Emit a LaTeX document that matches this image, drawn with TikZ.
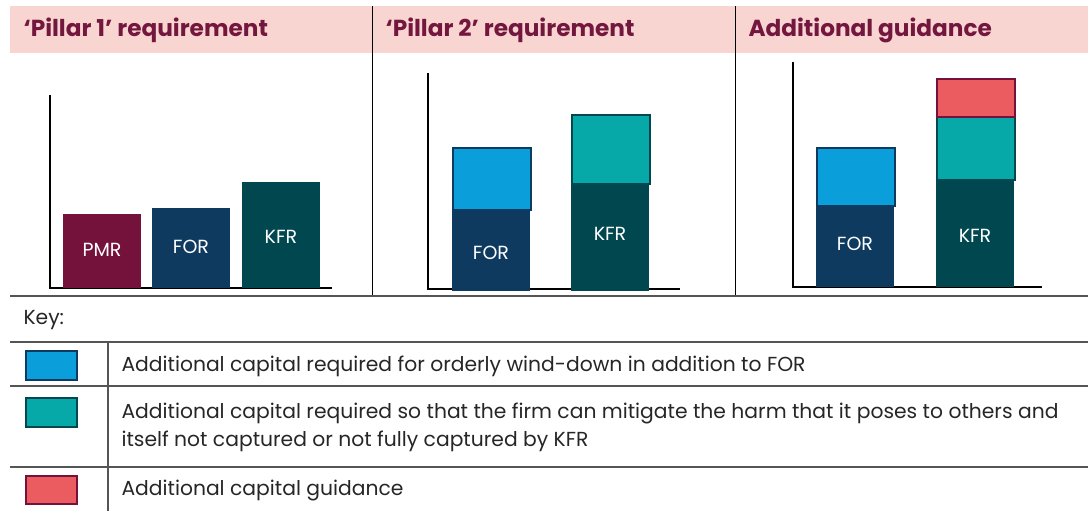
\documentclass[tikz,border=0pt]{standalone}
\usepackage{fontspec}
\setmainfont{Poppins}
\definecolor{hdrpink}{HTML}{F9D5D1}
\definecolor{hdrtext}{HTML}{74173F}
\definecolor{pmrc}{HTML}{74123C}
\definecolor{forc}{HTML}{0E3A5F}
\definecolor{kfrc}{HTML}{00474F}
\definecolor{lblue}{HTML}{0A9FDA}
\definecolor{lteal}{HTML}{07A8A8}
\definecolor{lred}{HTML}{EB5C61}
\definecolor{rulegray}{HTML}{555555}
\tikzset{
  bar/.style={anchor=south west, inner sep=0pt, minimum width=78pt, draw=none, text=white},
  barlabel/.style={text=white, font=\fontsize{19}{22}\selectfont},
  hdr/.style={anchor=west, text=hdrtext, font=\fontsize{23.2}{26}\selectfont\bfseries},
  keytext/.style={anchor=west, align=left, font=\fontsize{20.3}{28}\selectfont, text=black!85},
  axis/.style={line width=1.2pt, black},
  divider/.style={line width=1pt, black},
  hrule/.style={line width=1.3pt, rulegray},
  swatch/.style={anchor=north west, inner sep=0pt, minimum width=51pt, line width=1.8pt}
}
\begin{document}
\begin{tikzpicture}[x=1pt,y=-1pt]
\useasboundingbox (0,0) rectangle (1088,511);
% header band
\fill[hdrpink] (10,6) rectangle (1088,53);
\node[hdr] (h1) at (20,30) {‘Pillar 1’ requirement};
\node[hdr] (h2) at (382,30) {‘Pillar 2’ requirement};
\node[hdr] (h3) at (745,30) {Additional guidance};
% dividers
\draw[divider] (372,6) -- (372,296);
\draw[divider] (735,6) -- (735,296);
% panel 1
\draw[axis] (50,95) coordinate (a1t) -- (50,288) coordinate (a1o) -- (332,288) coordinate (a1r);
\node[bar, fill=pmrc, minimum height=74pt] (pmr) at (63,288) {};
\node[barlabel] (pmrl) at (102,250) {PMR};
\node[bar, fill=forc, minimum height=80pt] (for1) at (152,288) {};
\node[barlabel] (for1l) at (191,247) {FOR};
\node[bar, fill=kfrc, minimum height=106pt] (kfr1) at (242,288) {};
\node[barlabel] (kfr1l) at (281,237) {KFR};
% panel 2
\draw[axis] (428,73) coordinate (a2t) -- (428,289) coordinate (a2o) -- (680,289) coordinate (a2r);
\node[bar, fill=forc, minimum height=80pt] (for2) at (452,291) {};
\node[bar, fill=lblue, draw=forc, line width=2pt, minimum height=62pt] (add2a) at (452,211) {};
\node[barlabel] (for2l) at (491,253) {FOR};
\node[bar, fill=kfrc, minimum height=106pt] (kfr2) at (571,291) {};
\node[bar, fill=lteal, draw=kfrc, line width=2pt, minimum height=69pt] (add2b) at (571,185) {};
\node[barlabel] (kfr2l) at (610,234) {KFR};
% panel 3
\draw[axis] (793,62) coordinate (a3t) -- (793,287) coordinate (a3o) -- (1042,287) coordinate (a3r);
\node[bar, fill=forc, minimum height=80pt] (for3) at (816,287) {};
\node[bar, fill=lblue, draw=forc, line width=2pt, minimum height=58pt] (add3a) at (816,207) {};
\node[barlabel] (for3l) at (855,244) {FOR};
\node[bar, fill=kfrc, minimum height=106pt] (kfr3) at (936,287) {};
\node[bar, fill=lteal, draw=kfrc, line width=2pt, minimum height=63pt] (add3b) at (936,181) {};
\node[bar, fill=lred, draw=pmrc, line width=2pt, minimum height=38pt] (add3c) at (936,118) {};
\node[barlabel] (kfr3l) at (975,236) {KFR};
% key table
\draw[hrule] (10,296) -- (1088,296);
\node[keytext, anchor=west] (key) at (20,320) {Key:};
\draw[hrule] (10,342) -- (1088,342);
\draw[hrule] (10,386) -- (1088,386);
\draw[hrule] (10,467) -- (1088,467);
\draw[line width=1.3pt, rulegray] (108,342) -- (108,511);
\node[swatch, fill=lblue, draw=forc, minimum height=29pt] (s1) at (25,350) {};
\node[swatch, fill=lteal, draw=kfrc, minimum height=29pt] (s2) at (25,397) {};
\node[swatch, fill=lred, draw=pmrc, minimum height=28pt] (s3) at (25,475) {};
\node[keytext] (k1) at (118,366) {Additional capital required for orderly wind-down in addition to FOR};
\node[keytext] (k2) at (118,427) {Additional capital required so that the firm can mitigate the harm that it poses to others and\\itself not captured or not fully captured by KFR};
\node[keytext] (k3) at (118,491) {Additional capital guidance};
\end{tikzpicture}
\end{document}
